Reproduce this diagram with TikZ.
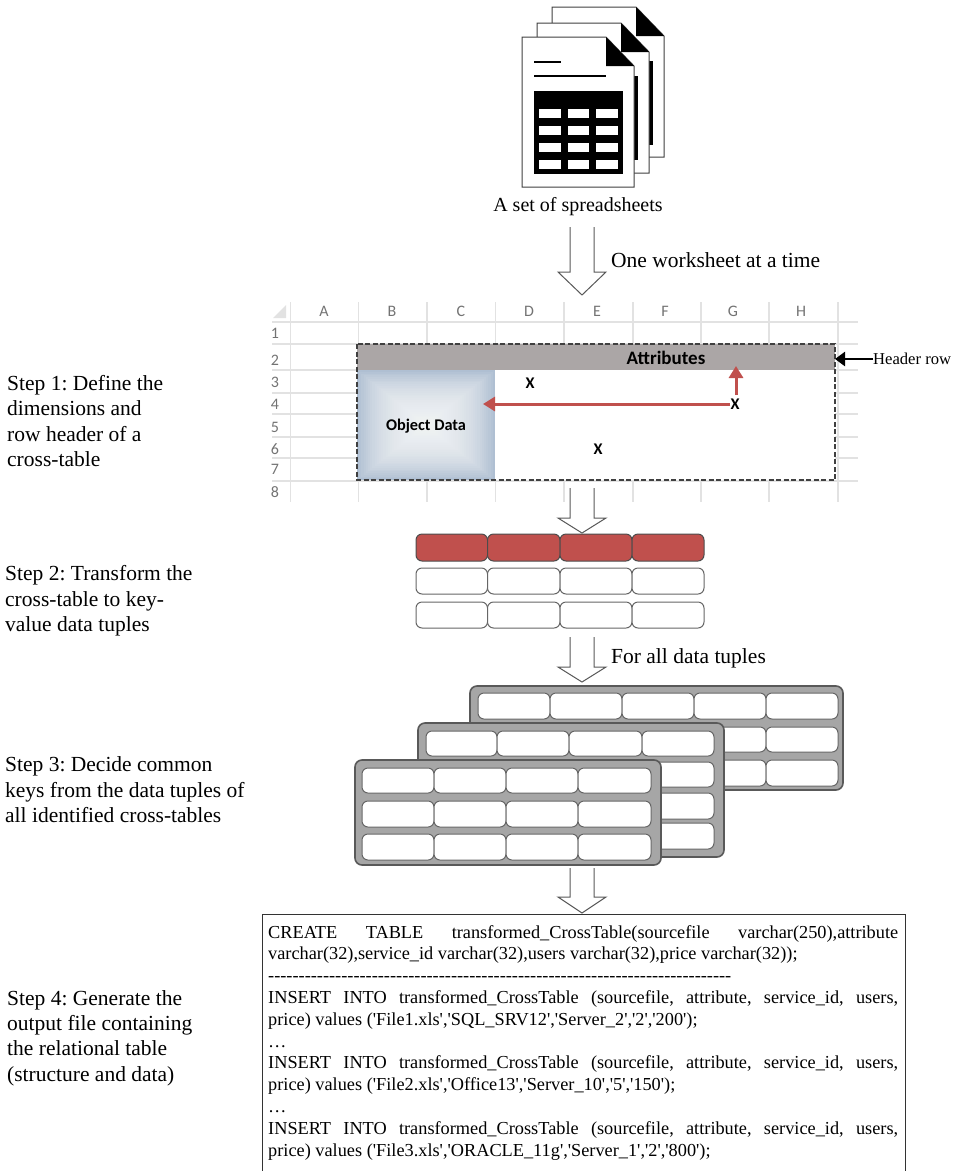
\documentclass[tikz,border=0pt]{standalone}
\usepackage{fontspec}
\setmainfont{Liberation Serif}
\setsansfont{Carlito}
\newfontfamily\sqlfont{Liberation Serif}
\usepackage{xcolor}
\usetikzlibrary{arrows.meta}
\definecolor{bandgray}{HTML}{ABA6A6}
\definecolor{tablegray}{HTML}{A6A6A6}
\definecolor{brickred}{HTML}{C0504D}
\definecolor{steelblue}{HTML}{AFBFD2}
\definecolor{sheetline}{HTML}{E2E2E2}
\tikzset{
  steplabel/.style={anchor=west,align=left,inner sep=0pt,font=\fontsize{21.5}{25.4}\selectfont},
  flowlabel/.style={anchor=west,inner sep=0pt,font=\fontsize{21.5}{24}\selectfont},
  hollow/.style={draw=black!65,fill=white,line width=1pt},
  headtext/.style={inner sep=0pt,text=black!55,font=\sffamily\fontsize{16}{18}\selectfont},
  celltext/.style={inner sep=0pt,font=\sffamily\bfseries\fontsize{16.3}{18}\selectfont},
  cell/.style={draw=black!60,fill=white,rounded corners=6pt,line width=1pt},
  redcell/.style={draw=black!70,fill=brickred,rounded corners=6pt,line width=1pt},
  backing/.style={draw=black!65,fill=tablegray,rounded corners=7pt,line width=1.6pt},
  page/.style={draw=black!75,fill=white,line width=1pt},
  redarrow/.style={draw=brickred,line width=3pt,-{Triangle[width=14pt,length=12pt]}}
}
% open arrow between two stages: x, top of shaft, wings, tip
\newcommand{\hollowarrow}[4]{
  \draw[hollow] (#1-12,#2) -- (#1-12,#3) -- (#1-24,#3) -- (#1,#4) -- (#1+24,#3) -- (#1+12,#3) -- (#1+12,#2);
}
% row of rounded cells: style, top, bottom, list of x/next x
\newcommand{\cellrow}[4]{
  \foreach \xa/\xb in {#4} {\draw[#1] (\xa,#2) rectangle (\xb,#3);}
}
% sheet of paper with a folded corner: left, top
\newcommand{\sheet}[2]{
  \draw[page] (#1,#2) -- (#1+84,#2) -- (#1+112,#2+29) -- (#1+112,#2+150) -- (#1,#2+150) -- cycle;
  \fill[black] (#1+84,#2) -- (#1+112,#2+29) -- (#1+84,#2+29) -- cycle;
}

\begin{document}
\frenchspacing
\begin{tikzpicture}[x=1pt,y=-1pt]
\useasboundingbox (0,0) rectangle (953,1171);

% Pile of spreadsheets
\sheet{552}{7}
\fill[black] (649,61) rectangle (653,145);
\sheet{537}{23}
\fill[black] (634,76) rectangle (638,160);
\sheet{522}{37}
\draw[black,line width=2.4pt] (534,62) -- (561,62);
\draw[black,line width=2.4pt] (534,76) -- (606,76);
\fill[black] (534,91) rectangle (623,174);
\foreach \ya/\yb in {109/118,126/135,143/152,160/169} {
  \foreach \xa/\xb in {539/561,568/589,596/618} {
    \fill[white] (\xa,\ya) rectangle (\xb,\yb);
  }
}
\node[inner sep=0pt,font=\fontsize{20}{22}\selectfont] (spreadsheets) at (578,207) {A set of spreadsheets};

\hollowarrow{582}{227}{272}{295}
\node[flowlabel] (oneworksheet) at (611,260) {One worksheet at a time};

% Worksheet grid
\foreach \y in {322,344,370,393,414,437,458,481} {
  \draw[sheetline,line width=1.2pt] (272,\y) -- (858,\y);
}
\foreach \x in {290.5,358.5,427,495.5,564,633,701,769,838} {
  \draw[sheetline,line width=1.2pt] (\x,302) -- (\x,502);
}
\fill[sheetline] (286,305) -- (286,318) -- (273,318) -- cycle;
\foreach \x/\c in {324/A,392/B,461/C,529/D,597/E,665/F,733/G,801/H} {
  \node[headtext] (col\c) at (\x,311) {\c};
}
\foreach \y/\r in {333/1,360/2,382/3,404/4,427/5,449/6,469/7,492/8} {
  \node[headtext] (row\r) at (275,\y) {\r};
}

% Cross-table
\fill[white] (357,344) rectangle (835,480);
\fill[bandgray] (357,344) rectangle (835,370);
\fill[steelblue] (357,370) rectangle (495,480);
\foreach \i in {1,...,30} {
  \fill[white,opacity=0.07] (357+2.2*\i,370+1.75*\i) rectangle (495-2.2*\i,480-1.75*\i);
}
\draw[black!75,line width=1.6pt,dash pattern=on 5pt off 2.5pt] (357,344) rectangle (835,480);
\node[celltext,font=\sffamily\bfseries\fontsize{19}{21}\selectfont] (attributes) at (666,358) {Attributes};
\node[celltext] (objectdata) at (426,426) {Object Data};
\node[celltext] (xd) at (530,383) {X};
\node[celltext] (xg) at (735,404) {X};
\node[celltext] (xe) at (598,449) {X};
\coordinate (attributesfoot) at (736,366);
\coordinate (objectedge) at (483,404);
\draw[redarrow] (xg.west) -- (objectedge);
\draw[redarrow] (736,395) -- (attributesfoot);
\node[anchor=west,inner sep=0pt,font=\fontsize{16.6}{18}\selectfont] (headerrow) at (873,359) {Header row};
\coordinate (bandend) at (835,359);
\draw[black,line width=2.5pt,-{Triangle[width=14pt,length=10pt]}] (headerrow.west) -- (bandend);

\hollowarrow{582}{488}{518}{533}

% Key-value tuples
\cellrow{redcell}{534}{561}{416/487.5,487.5/560,560/632,632/704}
\cellrow{cell}{568}{594}{416/487.5,487.5/560,560/632,632/704}
\cellrow{cell}{602}{628}{416/487.5,487.5/560,560/632,632/704}

\hollowarrow{582}{637}{667}{682}
\node[flowlabel] (alltuples) at (611,658) {For all data tuples};

% Tuples of three cross-tables
\draw[backing] (470,686) rectangle (843,790);
\foreach \ya/\yb in {693/719,727/752,760/786} {
  \cellrow{cell}{\ya}{\yb}{478/550,550/622,622/694,694/766,766/838}
}
\draw[backing] (418,723) rectangle (724,857);
\foreach \ya/\yb in {731/756,762/787,793/819,823/849} {
  \cellrow{cell}{\ya}{\yb}{426/497,497/569,569/642,642/714}
}
\draw[backing] (355,760) rectangle (661,865);
\foreach \ya/\yb in {768/793,801/827,834/860} {
  \cellrow{cell}{\ya}{\yb}{362/434,434/506,506/578,578/651}
}

\hollowarrow{582}{868}{897}{913}

% Output file
\draw[black!80,line width=1pt] (262,1171) -- (262,914) -- (905,914) -- (905,1171);
\node[anchor=north west,inner sep=0pt,text width=630pt,align=justify,
      font=\sqlfont\fontsize{18.3}{21.8}\selectfont] (outputfile) at (268,925) {%
CREATE TABLE transformed\_CrossTable(sourcefile varchar(250),attribute\linebreak
varchar(32),service\_id varchar(32),users varchar(32),price varchar(32));\\
\foreach \i in {1,...,76}{-}\\
INSERT INTO transformed\_CrossTable (sourcefile, attribute, service\_id, users,\linebreak
price) values ('File1.xls','SQL\_SRV12','Server\_2','2','200');\\
…\\
INSERT INTO transformed\_CrossTable (sourcefile, attribute, service\_id, users,\linebreak
price) values ('File2.xls','Office13','Server\_10','5','150');\\
…\\
INSERT INTO transformed\_CrossTable (sourcefile, attribute, service\_id, users,\linebreak
price) values ('File3.xls','ORACLE\_11g','Server\_1','2','800');};

% Step labels
\node[steplabel] (stepone) at (7,421) {Step 1: Define the\\dimensions and\\row header of a\\cross-table};
\node[steplabel] (steptwo) at (5,601) {Step 2: Transform the\\cross-table to key-\\value data tuples};
\node[steplabel] (stepthree) at (5,790) {Step 3: Decide common\\keys from the data tuples of\\all identified cross-tables};
\node[steplabel] (stepfour) at (7,1038) {Step 4: Generate the\\output file containing\\the relational table\\(structure and data)};

\end{tikzpicture}
\end{document}
